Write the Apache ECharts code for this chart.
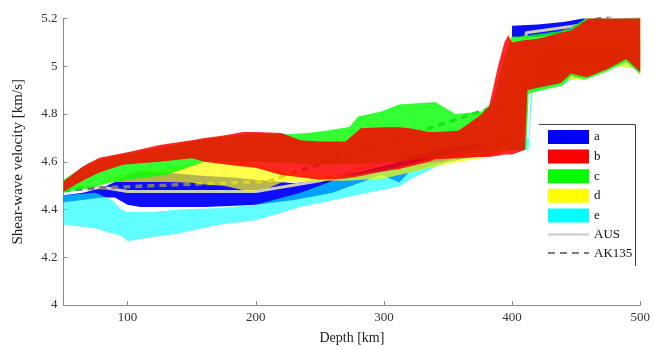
<!DOCTYPE html>
<html>
<head>
<meta charset="utf-8">
<script src="https://cdn.jsdelivr.net/npm/echarts@6/dist/echarts.min.js"></script>
<style>html,body{margin:0;padding:0;background:#fff}#c{width:653px;height:350px}</style>
</head>
<body>
<div id="c"></div>
<script>
// ---- data ----
const xTicks = [100, 200, 300, 400, 500];
const bandNames = ['a', 'b', 'c', 'd', 'e'];

// band a (blue)
const depthA = [50, 65, 80, 90, 100, 110, 130, 160, 180, 200, 230, 260, 298, 312, 319, 350, 380, 398, 400, 420, 440, 450, 455, 458];
const lowA   = [4.43, 4.44, 4.45, 4.45, 4.42, 4.41, 4.41, 4.41, 4.415, 4.42, 4.44, 4.47, 4.546, 4.513, 4.554, 4.60, 4.63, 4.65, 5.12, 5.125, 5.14, 5.16, 5.18, 5.2];
const highA  = [4.46, 4.47, 4.49, 4.515, 4.545, 4.56, 4.555, 4.54, 4.535, 4.525, 4.51, 4.53, 4.58, 4.60, 4.62, 4.66, 4.68, 4.70, 5.17, 5.175, 5.185, 5.195, 5.2, 5.2];

// band b (red)
const depthB = [50, 65, 78, 95, 100, 125, 150, 160, 175, 190, 200, 220, 235, 250, 270, 282, 290, 300, 312, 320, 335, 340, 358, 374, 382, 389, 394, 397, 400, 405, 410, 412, 420, 438, 446, 457, 459, 475, 489, 500];
const lowB   = [4.475, 4.52, 4.555, 4.585, 4.59, 4.60, 4.615, 4.60, 4.59, 4.58, 4.575, 4.545, 4.535, 4.525, 4.53, 4.54, 4.55, 4.56, 4.57, 4.58, 4.60, 4.61, 4.615, 4.62, 4.62, 4.625, 4.63, 4.63, 4.63, 4.64, 4.65, 4.90, 4.91, 4.93, 4.97, 4.955, 4.955, 4.99, 5.03, 4.975];
const highB  = [4.517, 4.58, 4.617, 4.635, 4.64, 4.67, 4.69, 4.70, 4.71, 4.725, 4.725, 4.72, 4.69, 4.685, 4.685, 4.74, 4.742, 4.745, 4.745, 4.74, 4.725, 4.725, 4.73, 4.79, 4.83, 5.0, 5.10, 5.13, 5.10, 5.105, 5.11, 5.11, 5.115, 5.14, 5.15, 5.19, 5.2, 5.2, 5.2, 5.2];

// band c (green)
const depthC = [50, 70, 85, 100, 130, 160, 200, 225, 240, 255, 273, 280, 298, 312, 340, 356, 376, 385, 392, 400, 405, 411, 413, 420, 440, 446, 457, 460, 475, 489, 500];
const lowC   = [4.47, 4.49, 4.51, 4.525, 4.545, 4.60, 4.60, 4.595, 4.59, 4.59, 4.59, 4.59, 4.60, 4.60, 4.62, 4.63, 4.64, 4.64, 4.645, 4.65, 4.65, 4.65, 4.885, 4.895, 4.92, 4.96, 4.945, 4.95, 4.98, 5.02, 4.965];
const highC  = [4.525, 4.595, 4.62, 4.635, 4.665, 4.695, 4.72, 4.715, 4.72, 4.73, 4.746, 4.79, 4.81, 4.84, 4.85, 4.80, 4.81, 4.85, 5.0, 5.125, 5.125, 5.13, 5.13, 5.135, 5.15, 5.16, 5.2, 5.2, 5.2, 5.2, 5.2];

// band d (yellow)
const depthD = [80, 86, 100, 110, 130, 150, 160, 175, 195, 210, 221, 230, 245, 260, 270, 300, 340, 380, 395, 397, 398, 399, 400, 420, 440, 457, 462, 480, 500];
const lowD   = [4.515, 4.515, 4.515, 4.515, 4.515, 4.512, 4.505, 4.50, 4.475, 4.49, 4.515, 4.515, 4.52, 4.52, 4.52, 4.53, 4.58, 4.62, 4.64, 4.645, 4.65, 4.65, 4.92, 4.93, 4.94, 4.945, 4.97, 5.0, 4.99];
const highD  = [4.515, 4.53, 4.55, 4.565, 4.57, 4.59, 4.61, 4.61, 4.60, 4.58, 4.56, 4.555, 4.55, 4.545, 4.54, 4.56, 4.62, 4.67, 4.75, 5.0, 5.18, 5.1, 5.05, 5.08, 5.1, 5.12, 5.12, 5.12, 5.12];

// band e (cyan)
const depthE = [50, 75, 88, 95, 100, 120, 140, 170, 200, 235, 270, 312, 320, 345, 370, 390, 405, 413, 416, 440, 460, 480, 500];
const lowE   = [4.337, 4.32, 4.30, 4.29, 4.267, 4.285, 4.30, 4.335, 4.355, 4.41, 4.45, 4.496, 4.525, 4.59, 4.63, 4.645, 4.65, 4.65, 4.90, 4.93, 4.97, 5.0, 4.99];
const highE  = [4.46, 4.47, 4.44, 4.40, 4.39, 4.39, 4.40, 4.405, 4.42, 4.47, 4.54, 4.58, 4.59, 4.60, 4.64, 4.66, 4.68, 4.70, 5.05, 5.1, 5.1, 5.1, 5.1];

// reference models
const depthAUS = [50, 78, 100, 200, 250, 300, 350, 400, 410, 411, 450, 500];
const velAUS   = [4.49, 4.495, 4.475, 4.475, 4.52, 4.60, 4.70, 4.80, 4.85, 5.14, 5.17, 5.2];
const depthAK  = [50, 77.5, 120, 165, 210, 260, 310, 360, 410, 410, 460, 500];
const velAK    = [4.48, 4.49, 4.50, 4.509, 4.518, 4.609, 4.696, 4.783, 4.870, 5.081, 5.186, 5.25];

// ---- chart ----
const serif = 'Liberation Serif, Times New Roman, serif';

function band(name, color, opacity, z, d, lo, hi) {
  return {
    type: 'custom', name: name, z: z,
    coordinateSystem: 'cartesian2d',
    itemStyle: { color: color },
    silent: true,
    data: d.map((x, i) => [x, lo[i], hi[i]]),
    encode: { x: 0, y: [1, 2] },
    renderItem: function (params, api) {
      if (params.dataIndex !== 0) return null;
      const pts = [];
      for (let i = 0; i < d.length; i++) pts.push(api.coord([d[i], hi[i]]));
      for (let i = d.length - 1; i >= 0; i--) pts.push(api.coord([d[i], lo[i]]));
      return { type: 'polygon', shape: { points: pts }, style: { fill: color, opacity: opacity, stroke: null } };
    }
  };
}

const chart = echarts.init(document.getElementById('c'));
chart.setOption({
  animation: false,
  backgroundColor: '#fff',
  grid: { left: 63.5, right: 10, top: 18.5, bottom: 44 },
  xAxis: {
    type: 'value', min: 50, max: 500,
    name: 'Depth [km]', nameLocation: 'middle', nameGap: 26,
    nameTextStyle: { fontFamily: serif, fontSize: 14, color: '#222' },
    axisLine: { show: true, lineStyle: { color: '#8a8a8a', width: 1 } },
    axisTick: { show: true, inside: true, length: 4, customValues: xTicks, lineStyle: { color: '#8a8a8a' } },
    axisLabel: { customValues: xTicks, fontFamily: serif, fontSize: 13, color: '#333', margin: 6 },
    splitLine: { show: false }
  },
  yAxis: {
    type: 'value', min: 4, max: 5.2, interval: 0.2,
    name: 'Shear-wave velocity [km/s]', nameLocation: 'middle', nameGap: 38,
    nameTextStyle: { fontFamily: serif, fontSize: 15, color: '#222' },
    axisLine: { show: true, lineStyle: { color: '#8a8a8a', width: 1 } },
    axisTick: { show: true, inside: true, length: 4, lineStyle: { color: '#8a8a8a' } },
    axisLabel: { fontFamily: serif, fontSize: 13, color: '#333', margin: 6 },
    splitLine: { show: false }
  },
  legend: {
    orient: 'vertical', left: 542, top: 125,
    itemWidth: 41, itemHeight: 14, itemGap: 5.6,
    selectedMode: false,
    textStyle: { fontFamily: serif, fontSize: 13, color: '#111' },
    data: [
      { name: bandNames[0], icon: 'rect' },
      { name: bandNames[1], icon: 'rect' },
      { name: bandNames[2], icon: 'rect' },
      { name: bandNames[3], icon: 'rect' },
      { name: bandNames[4], icon: 'rect' },
      { name: 'AUS', itemStyle: { opacity: 0 } },
      { name: 'AK135', itemStyle: { opacity: 0 } }
    ]
  },
  graphic: [
    { type: 'polyline', silent: true, shape: { points: [[539, 124.5], [635.5, 124.5], [635.5, 266]] },
      style: { stroke: '#444', lineWidth: 1, fill: null } }
  ],
  series: [
    band(bandNames[0], '#0000ff', 0.95, 1, depthA, lowA, highA),
    band(bandNames[4], '#00ffff', 0.62, 2, depthE, lowE, highE),
    {
      type: 'line', name: 'AUS', z: 3, symbol: 'none', silent: true,
      itemStyle: { color: '#cfcac0' },
      lineStyle: { color: '#cfcac0', width: 3 },
      data: depthAUS.map((x, i) => [x, velAUS[i]])
    },
    {
      type: 'line', name: 'AK135', z: 4, symbol: 'none', silent: true,
      itemStyle: { color: '#7a7a7a' },
      lineStyle: { color: '#7a7a7a', width: 3.5, type: [7, 5] },
      data: depthAK.map((x, i) => [x, velAK[i]])
    },
    band(bandNames[3], '#ffff00', 0.7, 5, depthD, lowD, highD),
    band(bandNames[2], '#00ff00', 0.8, 6, depthC, lowC, highC),
    band(bandNames[1], '#ff0000', 0.85, 7, depthB, lowB, highB)
  ]
});
</script>
</body>
</html>
